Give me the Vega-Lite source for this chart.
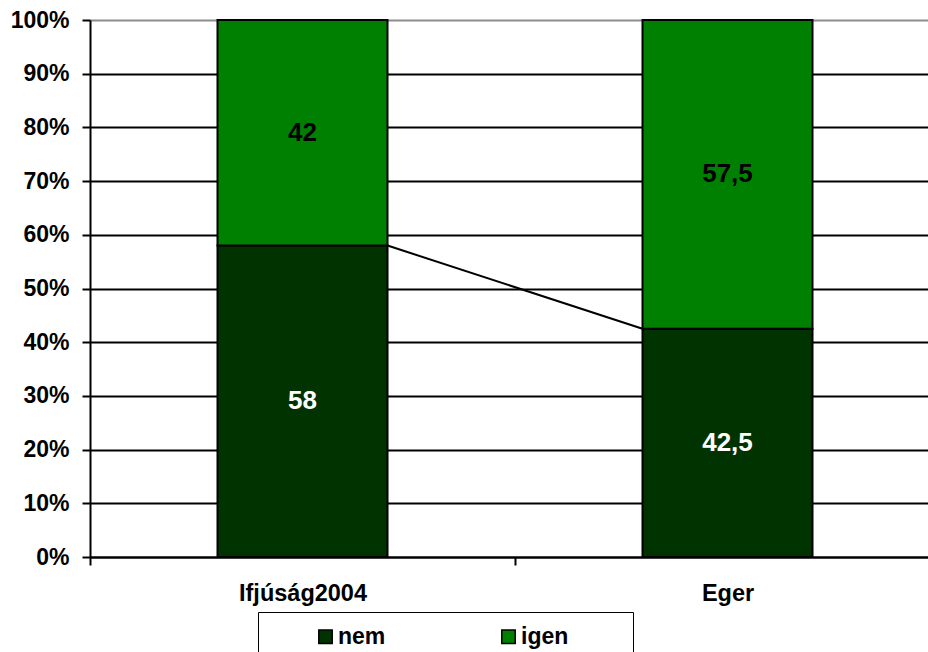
{
  "$schema": "https://vega.github.io/schema/vega-lite/v6.json",
  "width": 850,
  "height": 537,
  "autosize": "none",
  "padding": {"left": 90, "top": 20, "right": 0, "bottom": 95},
  "background": "white",
  "config": {"view": {"stroke": null}, "font": "Liberation Sans"},
  "datasets": {
    "bars": [
      {"cat": "Ifjúság2004", "ans": "nem", "v": 58, "ord": 1, "lab": "58"},
      {"cat": "Ifjúság2004", "ans": "igen", "v": 42, "ord": 2, "lab": "42"},
      {"cat": "Eger", "ans": "nem", "v": 42.5, "ord": 1, "lab": "42,5"},
      {"cat": "Eger", "ans": "igen", "v": 57.5, "ord": 2, "lab": "57,5"}
    ],
    "link": [
      {"from": "Ifjúság2004", "to": "Eger", "ya": 58, "yb": 42.5}
    ]
  },
  "layer": [
    {
      "data": {"name": "bars"},
      "transform": [
        {"stack": "v", "groupby": ["cat"], "sort": [{"field": "ord", "order": "ascending"}], "as": ["y0", "y1"]}
      ],
      "mark": {"type": "bar", "stroke": "black", "strokeWidth": 2},
      "encoding": {
        "x": {
          "field": "cat", "type": "nominal",
          "scale": {"domain": ["Ifjúság2004", "Eger"], "paddingInner": 0.6, "paddingOuter": 0.3},
          "axis": {
            "title": null, "labelAngle": 0, "labelFont": "Liberation Sans", "labelFontWeight": "bold",
            "labelFontSize": 23.5, "labelColor": "black", "labelPadding": 16,
            "domainColor": "black", "domainWidth": 2, "tickColor": "black", "tickWidth": 2, "tickSize": 8,
            "tickOffset": -212.5, "labelOffset": 212.5, "grid": false
          }
        },
        "y": {
          "field": "y0", "type": "quantitative",
          "scale": {"domain": [0, 100], "nice": false},
          "axis": {
            "title": null, "values": [0, 10, 20, 30, 40, 50, 60, 70, 80, 90, 100],
            "labelExpr": "datum.value + '%'", "labelFont": "Liberation Sans", "labelFontWeight": "bold",
            "labelFontSize": 23, "labelColor": "black", "labelPadding": 13,
            "domainColor": "black", "domainWidth": 2, "tickColor": "black", "tickWidth": 2, "tickSize": 8,
            "grid": true, "gridWidth": 2,
            "gridColor": {"condition": {"test": "datum.value == 100", "value": "#8c8c8c"}, "value": "black"}
          }
        },
        "y2": {"field": "y1"},
        "color": {
          "field": "ans", "type": "nominal",
          "scale": {"domain": ["nem", "igen"], "range": ["#003300", "#008000"]},
          "legend": {
            "title": null, "orient": "none", "legendX": 168, "legendY": 592, "direction": "horizontal",
            "strokeColor": "black", "padding": 13, "fillColor": "white",
            "symbolType": "square", "symbolSize": 180, "symbolStrokeColor": "black", "symbolStrokeWidth": 1.5,
            "symbolOpacity": 1, "symbolOffset": 43, "labelOffset": 1,
            "labelExpr": "datum.value == 'igen' ? 'igen\u2800\u2800\u2800' : datum.label",
            "labelFont": "Liberation Sans", "labelFontWeight": "bold", "labelFontSize": 23, "labelColor": "black",
            "columnPadding": 68
          }
        }
      }
    },
    {
      "data": {"name": "bars"},
      "transform": [
        {"stack": "v", "groupby": ["cat"], "sort": [{"field": "ord", "order": "ascending"}], "as": ["y0", "y1"]},
        {"calculate": "(datum.y0 + datum.y1) / 2", "as": "mid"}
      ],
      "mark": {"type": "text", "font": "Liberation Sans", "fontWeight": "bold", "fontSize": 26, "baseline": "middle", "align": "center"},
      "encoding": {
        "x": {"field": "cat", "type": "nominal"},
        "y": {"field": "mid", "type": "quantitative"},
        "text": {"field": "lab"},
        "color": {"condition": {"test": "datum.ans == 'nem'", "value": "white"}, "value": "black"}
      }
    },
    {
      "data": {"name": "link"},
      "mark": {"type": "rule", "color": "black", "strokeWidth": 2},
      "encoding": {
        "x": {"field": "from", "type": "nominal", "bandPosition": 1},
        "x2": {"field": "to", "bandPosition": 0},
        "y": {"field": "ya", "type": "quantitative"},
        "y2": {"field": "yb"}
      }
    }
  ]
}
